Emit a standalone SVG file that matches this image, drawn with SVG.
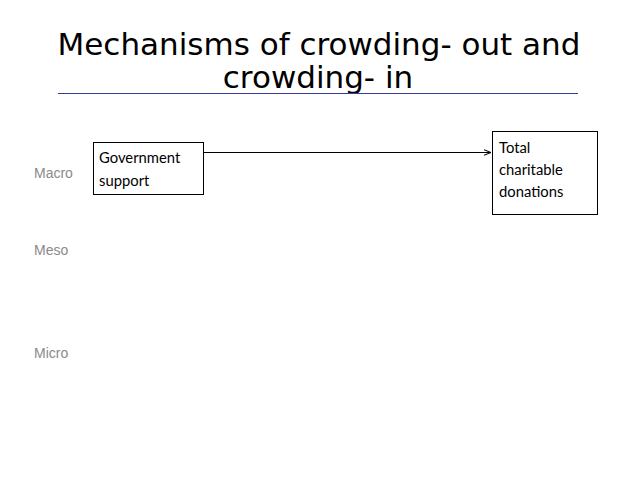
<svg xmlns="http://www.w3.org/2000/svg" width="638" height="479" viewBox="0 0 638 479">
<style>
.title{font-family:"DejaVu Sans",Verdana,sans-serif;font-size:31px;fill:#000;text-anchor:middle}
.lvl{font-family:"Liberation Sans",Arial,sans-serif;font-size:14px;fill:#8a8a8a}
.box{fill:#fff;stroke:#000;stroke-width:1}
.bt{font-family:Lato,"Open Sans",sans-serif;font-size:14.8px;fill:#000}
</style>
<defs>
<marker id="ah" viewBox="0 0 10 10" refX="10" refY="5" markerWidth="7" markerHeight="7" orient="auto" markerUnits="userSpaceOnUse">
<path d="M0,1 L10,5 L0,9" fill="none" stroke="#000" stroke-width="1.5"/>
</marker>
</defs>
<rect width="638" height="479" fill="#fff"/>
<g id="title">
<text class="title" x="319" y="55">Mechanisms of crowding- out and</text>
<text class="title" x="318" y="88">crowding- in</text>
<line x1="58" y1="93.5" x2="578" y2="93.5" stroke="#3a3a9a" stroke-width="1"/>
</g>
<g id="levels">
<text class="lvl" x="34" y="178">Macro</text>
<text class="lvl" x="34" y="255">Meso</text>
<text class="lvl" x="34" y="358">Micro</text>
</g>
<g id="connectors">
<line x1="204" y1="152.5" x2="491" y2="152.5" stroke="#000" stroke-width="1" marker-end="url(#ah)"/>
</g>
<g id="gov">
<rect class="box" x="93.5" y="142.5" width="110" height="52"/>
<text class="bt" x="99" y="163">Government</text>
<text class="bt" x="99" y="186">support</text>
</g>
<g id="total">
<rect class="box" x="492.5" y="131.5" width="105" height="83"/>
<text class="bt" x="499" y="153">Total</text>
<text class="bt" x="499" y="175">charitable</text>
<text class="bt" x="499" y="197">donations</text>
</g>
</svg>
